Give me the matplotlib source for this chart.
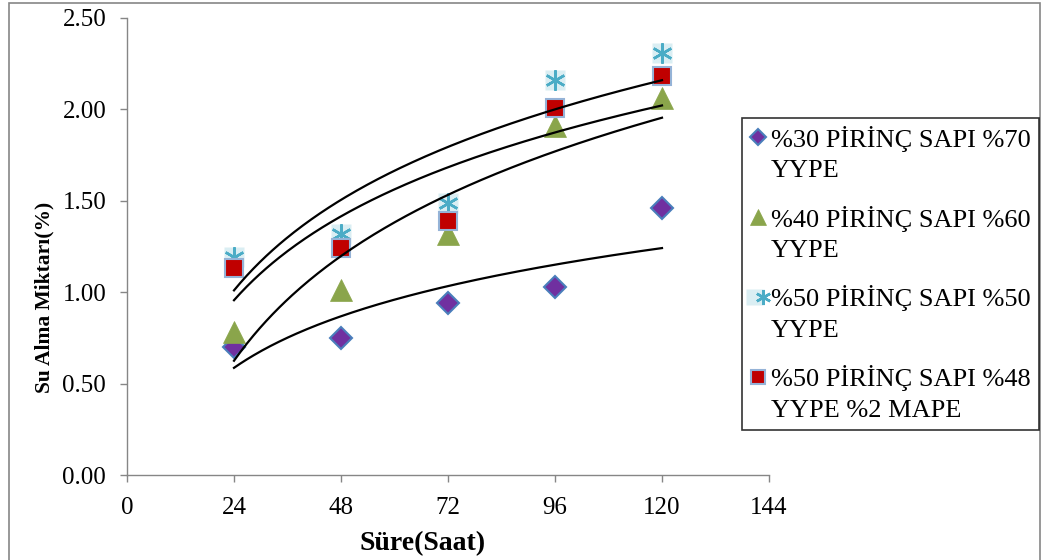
import numpy as np
import matplotlib
matplotlib.use("Agg")
import matplotlib.pyplot as plt
from matplotlib.patches import Rectangle
from matplotlib.legend_handler import HandlerTuple, HandlerLine2D

plt.rcParams['font.family'] = ['Liberation Serif', 'DejaVu Serif']

# veriler
hours = [24, 48, 72, 96, 120]
s30 = [0.70, 0.75, 0.94, 1.03, 1.46]
s40 = [0.78, 1.01, 1.32, 1.91, 2.06]
s50 = [1.19, 1.32, 1.49, 2.16, 2.31]
s50_mape = [1.13, 1.24, 1.39, 2.01, 2.18]
labels = ["%30 PİRİNÇ SAPI %70\nYYPE",
          "%40 PİRİNÇ SAPI %60\nYYPE",
          "%50 PİRİNÇ SAPI %50\nYYPE",
          "%50 PİRİNÇ SAPI %48\nYYPE %2 MAPE"]
xticks = [0, 24, 48, 72, 96, 120, 144]
yticks = [0.0, 0.5, 1.0, 1.5, 2.0, 2.5]


class HandlerUp(HandlerLine2D):
    # lejant işaretini ilk satır hizasına kaldır
    def __init__(self, dy=11.5, **kw):
        super().__init__(**kw)
        self.dy = dy

    def create_artists(self, legend, orig_handle, xdescent, ydescent,
                       width, height, fontsize, trans):
        return super().create_artists(legend, orig_handle, xdescent,
                                      ydescent - 2 * self.dy, width, height,
                                      fontsize, trans)


fig = plt.figure(figsize=(10.43, 5.6), dpi=100)
ax = fig.add_axes([127 / 1043, 1 - 475 / 560, 642 / 1043, 457 / 560])

x = np.array(hours, dtype=float)

h1, = ax.plot(x, s30, ls='none', marker='D', ms=11, mfc='#7030A0', mec='#4A7EBB', mew=1.5, zorder=3)
h2, = ax.plot(x, s40, ls='none', marker='^', ms=16, mfc='#8AA54B', mec='#8AA54B', mew=0.5, zorder=3)
h3a, = ax.plot(x, s50, ls='none', marker='s', ms=14.5, mfc='#DAEEF3', mec='none', zorder=3)
h3b, = ax.plot(x, s50, ls='none', marker=(6, 2, 0), ms=14.5, mec='#4BACC6', mew=1.8, zorder=3.1)
h4, = ax.plot(x, s50_mape, ls='none', marker='s', ms=12.5, mfc='#C00000', mec='#95B3D7', mew=1.5, zorder=3.2)

# logaritmik trend çizgileri
xx = np.linspace(24, 120, 200)
for ys in [s30, s40, s50, s50_mape]:
    a, b = np.polyfit(np.log(x), ys, 1)
    ax.plot(xx, a * np.log(xx) + b, color='black', lw=1.6, zorder=4)

ax.set_xlim(0, 144)
ax.set_ylim(0, 2.5)
ax.set_xticks(xticks)
ax.set_yticks(yticks)
ax.set_yticklabels([f"{v:.2f}" for v in yticks])
ax.tick_params(axis='both', labelsize=18, colors='#868686', labelcolor='black', length=5, width=1)
ax.tick_params(axis='x', pad=11)
ax.tick_params(axis='y', pad=10)
for s in ['top', 'right']:
    ax.spines[s].set_visible(False)
for s in ['left', 'bottom']:
    ax.spines[s].set_color('#868686')
    ax.spines[s].set_linewidth(1)

ax.set_xlabel("Süre(Saat)", fontsize=20, fontweight='bold')
ax.xaxis.set_label_coords((423 - 127) / 642, (475 - 531) / 457)
ax.set_ylabel("Su Alma Miktarı(%)", fontsize=15.5, fontweight='bold')
ax.yaxis.set_label_coords((54 - 127) / 642, (475 - 297) / 457)

up = HandlerUp()
hmap = {tuple: HandlerTuple(ndivide=None, pad=0),
        h1: up, h2: up, h3a: up, h3b: up, h4: up}
leg = fig.legend([h1, h2, (h3a, h3b), h4], labels, handler_map=hmap,
                 loc='upper left', bbox_to_anchor=(742 / 1043, 1 - 118 / 560),
                 fontsize=19, frameon=True, fancybox=False, markerscale=0.75,
                 handlelength=0.65, handletextpad=0.15, borderpad=0.3,
                 labelspacing=0.88, borderaxespad=0)
for t in leg.get_texts():
    t.set_linespacing(1.5)
leg.get_frame().set_edgecolor('black')
leg.get_frame().set_linewidth(1.2)

fig.patches.append(Rectangle((9 / 1043, -0.01), 1031 / 1043, 1.01 - 3 / 560,
                             transform=fig.transFigure, fill=False,
                             edgecolor='#868686', lw=1.2))

fig.savefig("out.png", dpi=100)
